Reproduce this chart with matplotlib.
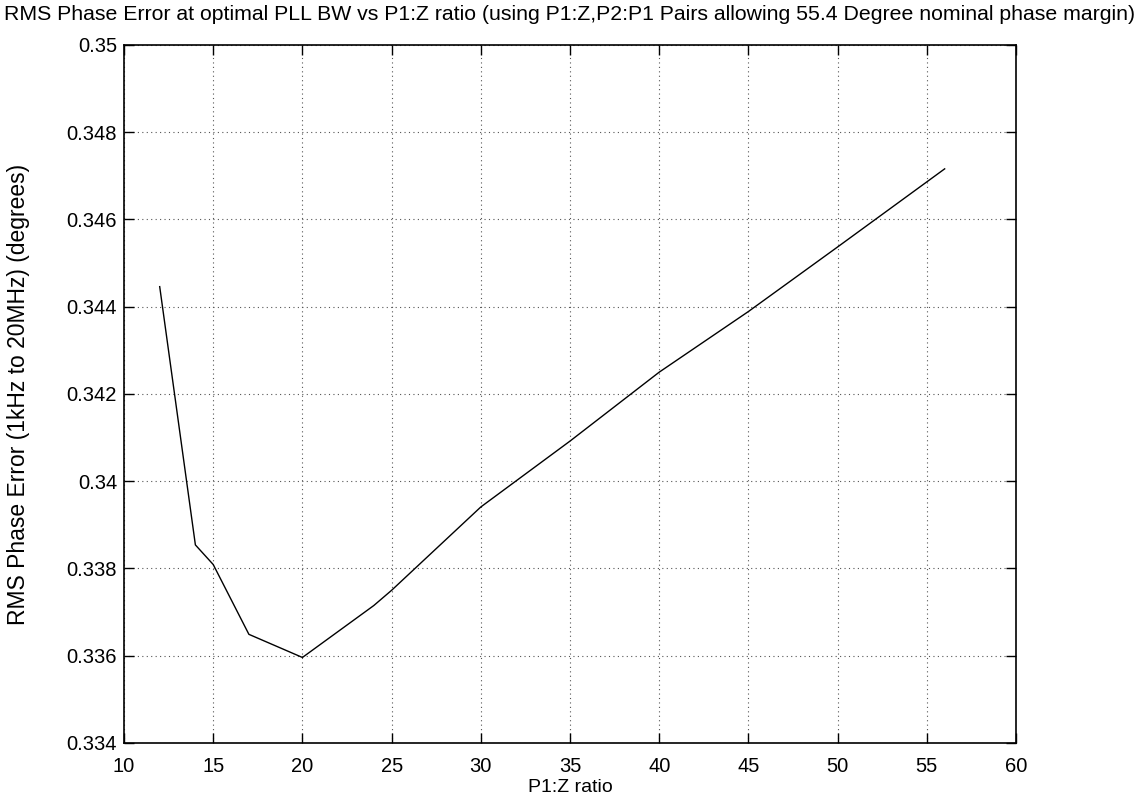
import matplotlib
matplotlib.use("Agg")
import matplotlib.pyplot as plt
from matplotlib.ticker import FixedLocator, FixedFormatter

# Data
p1z_ratio = [12, 14, 15, 17, 20, 24, 25, 30, 35, 40, 45, 50, 56]
rms_phase_err = [0.34446, 0.33854, 0.33809, 0.33649, 0.33596, 0.33715, 0.33750,
                 0.33941, 0.34092, 0.34250, 0.34389, 0.34537, 0.34716]

x_ticks = [10, 15, 20, 25, 30, 35, 40, 45, 50, 55, 60]
x_tick_labels = ["10", "15", "20", "25", "30", "35", "40", "45", "50", "55", "60"]
y_ticks = [0.334, 0.336, 0.338, 0.340, 0.342, 0.344, 0.346, 0.348, 0.350]
y_tick_labels = ["0.334", "0.336", "0.338", "0.34", "0.342", "0.344", "0.346", "0.348", "0.35"]

title = ("RMS Phase Error at optimal PLL BW vs P1:Z ratio (using P1:Z,P2:P1 Pairs "
         "allowing 55.4 Degree nominal phase margin)")
xlabel = "P1:Z ratio"
ylabel = "RMS Phase Error (1kHz to 20MHz) (degrees)"

plt.rcParams['font.family'] = ['Liberation Sans', 'DejaVu Sans']

fig = plt.figure(figsize=(11.42, 7.97), dpi=100)
ax = fig.add_axes([0.1086, 0.0678, 0.7811, 0.8758])

ax.plot(p1z_ratio, rms_phase_err, color='black', linewidth=1.0)

ax.set_xlim(10, 60)
ax.set_ylim(0.334, 0.350)
ax.xaxis.set_major_locator(FixedLocator(x_ticks))
ax.xaxis.set_major_formatter(FixedFormatter(x_tick_labels))
ax.yaxis.set_major_locator(FixedLocator(y_ticks))
ax.yaxis.set_major_formatter(FixedFormatter(y_tick_labels))

ax.grid(True, linestyle=(0, (1, 3)), color='#555555', linewidth=0.8)
ax.tick_params(direction='in', top=True, right=True, length=7, width=1,
               labelsize=14.5)
ax.tick_params(axis='x', pad=10)
ax.tick_params(axis='y', pad=5)
for s in ax.spines.values():
    s.set_linewidth(1.2)

ax.set_title(title, fontsize=15.3, pad=18)
ax.set_xlabel(xlabel, fontsize=14, labelpad=2)
ax.set_ylabel(ylabel, fontsize=16.5, labelpad=26)

fig.savefig("out.png", dpi=100)
